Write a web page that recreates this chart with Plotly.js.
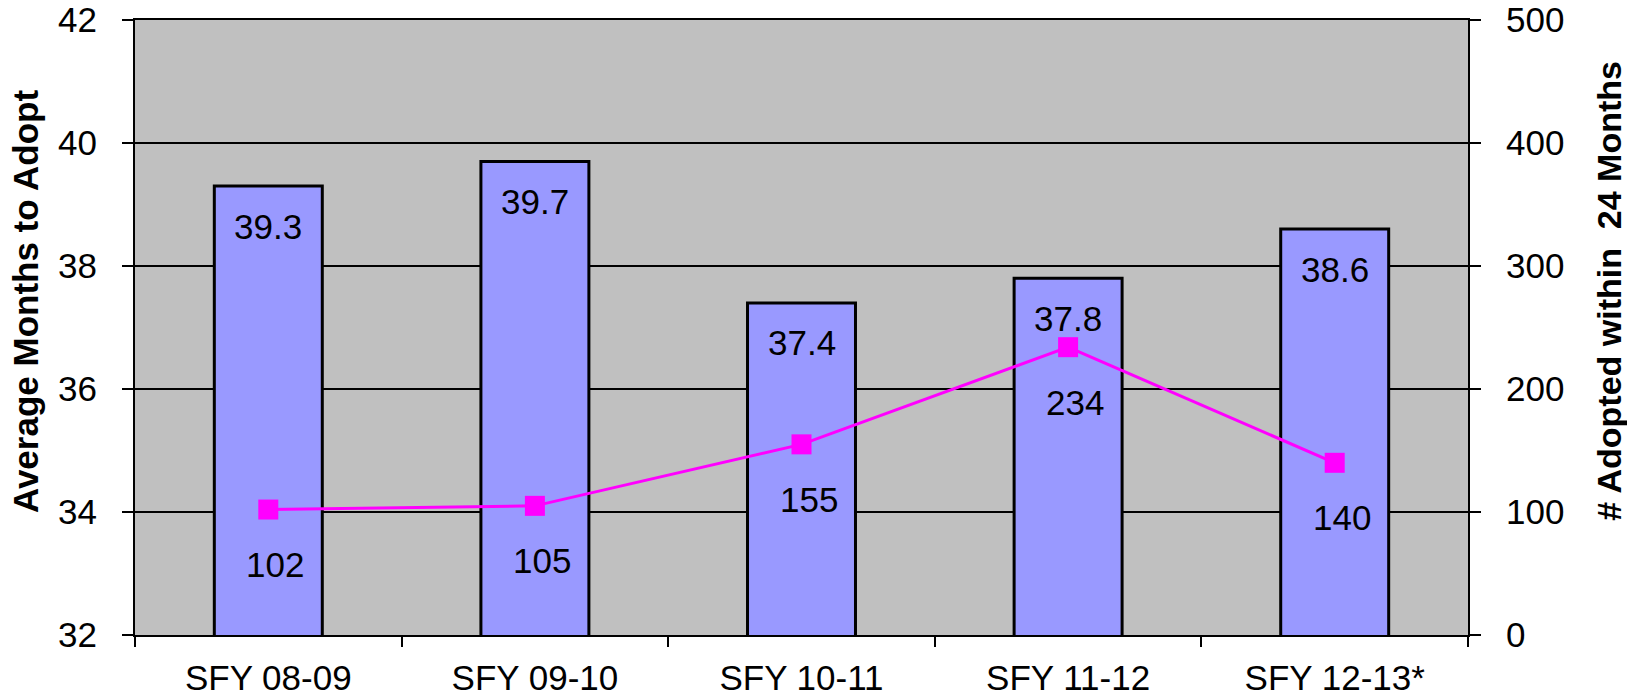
<!DOCTYPE html>
<html>
<head>
<meta charset="utf-8">
<script src="https://cdn.plot.ly/plotly-3.0.1.min.js"></script>
<style>html,body{margin:0;padding:0;background:#fff;}#chart{width:1627px;height:698px;}</style>
</head>
<body>
<div id="chart"></div>
<script>
const categories = ["SFY 08-09", "SFY 09-10", "SFY 10-11", "SFY 11-12", "SFY 12-13*"];
const avgMonths = [39.3, 39.7, 37.4, 37.8, 38.6];
const adoptedWithin24 = [102, 105, 155, 234, 140];
const leftTicks = [32, 34, 36, 38, 40, 42];
const rightTicks = [0, 100, 200, 300, 400, 500];
const leftTitle = "Average Months to Adopt";
const rightTitle = "# Adopted within  24 Months";

const FONT = "Liberation Sans, Arial, sans-serif";
const FS = 35;

const traces = [
  {
    type: "bar",
    x: categories,
    y: avgMonths,
    width: 0.405,
    marker: {color: "#9999FF", line: {color: "#000000", width: 3}},
    hoverinfo: "x+y",
    yaxis: "y"
  },
  {
    type: "scatter",
    mode: "lines+markers",
    x: categories,
    y: adoptedWithin24,
    yaxis: "y2",
    line: {color: "#FF00FF", width: 3},
    marker: {symbol: "square", size: 20, color: "#FF00FF"}
  }
];

const annotations = [];
categories.forEach((c, i) => {
  annotations.push({
    x: c, y: avgMonths[i], xref: "x", yref: "y",
    text: avgMonths[i].toFixed(1), showarrow: false,
    yanchor: "middle", yshift: -40,
    font: {family: FONT, size: FS, color: "#000"}
  });
  annotations.push({
    x: c, y: adoptedWithin24[i], xref: "x", yref: "y2",
    text: String(adoptedWithin24[i]), showarrow: false,
    yanchor: "middle", yshift: -55, xshift: 7,
    font: {family: FONT, size: FS, color: "#000"}
  });
});
annotations.push({
  xref: "paper", yref: "paper", x: -0.0825, y: 0.543,
  text: "<b>" + leftTitle + "</b>", textangle: -90, showarrow: false,
  xanchor: "center", yanchor: "middle",
  font: {family: FONT, size: 35, color: "#000"}
});
annotations.push({
  xref: "paper", yref: "paper", x: 1.1058, y: 0.560,
  text: "<b>" + rightTitle.replace(/  /g, "&nbsp; ") + "</b>", textangle: -90, showarrow: false,
  xanchor: "center", yanchor: "middle",
  font: {family: FONT, size: 34, color: "#000"}
});

const layout = {
  width: 1627, height: 698,
  margin: {l: 135, r: 159, t: 20, b: 63, pad: 0},
  paper_bgcolor: "#FFFFFF",
  plot_bgcolor: "#C0C0C0",
  showlegend: false,
  font: {family: FONT, size: FS, color: "#000"},
  xaxis: {
    type: "category",
    range: [-0.5, 4.5],
    tickson: "boundaries",
    ticks: "outside", ticklen: 10, tickwidth: 2, tickcolor: "#000",
    showline: true, linecolor: "#000", linewidth: 2, mirror: true,
    showgrid: false, zeroline: false,
    ticklabelstandoff: 11,
    tickfont: {family: FONT, size: FS, color: "#000"}
  },
  yaxis: {
    range: [32, 42],
    tickvals: leftTicks,
    ticktext: leftTicks.map(String),
    ticks: "outside", ticklen: 11, tickwidth: 2, tickcolor: "#000",
    showline: true, linecolor: "#000", linewidth: 2,
    showgrid: true, gridcolor: "#000", gridwidth: 1.2,
    zeroline: false,
    ticklabelstandoff: 18,
    tickfont: {family: FONT, size: FS, color: "#000"}
  },
  yaxis2: {
    range: [0, 500],
    tickvals: rightTicks,
    ticktext: rightTicks.map(String),
    overlaying: "y", side: "right",
    ticks: "outside", ticklen: 11, tickwidth: 2, tickcolor: "#000",
    showline: true, linecolor: "#000", linewidth: 2,
    showgrid: false, zeroline: false,
    ticklabelstandoff: 18,
    tickfont: {family: FONT, size: FS, color: "#000"}
  },
  annotations: annotations
};

Plotly.newPlot("chart", traces, layout, {staticPlot: true, displayModeBar: false});
</script>
</body>
</html>
